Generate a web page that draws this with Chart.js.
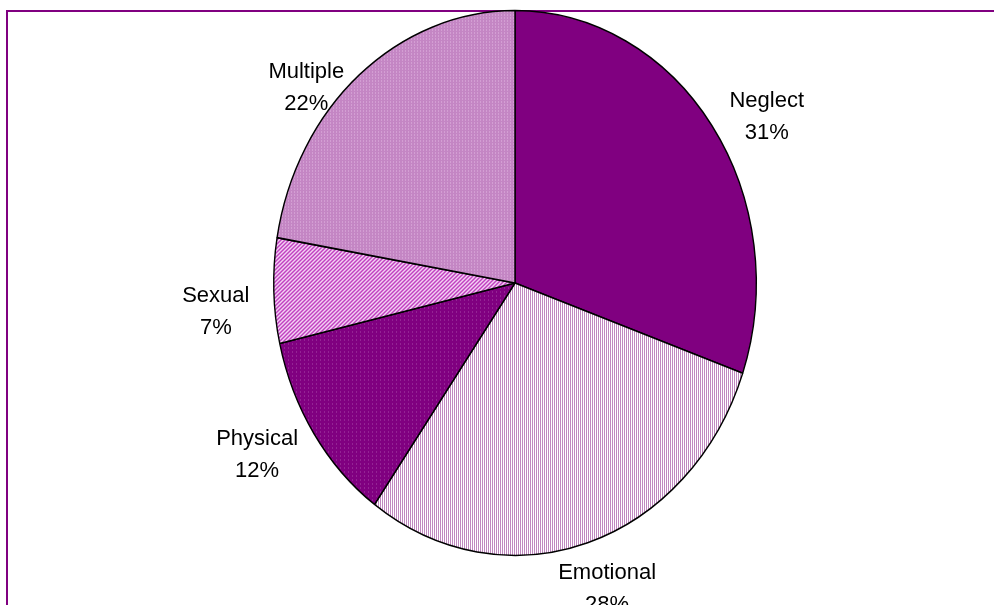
<!DOCTYPE html>
<html>
<head>
<meta charset="utf-8">
<script src="https://cdn.jsdelivr.net/npm/chart.js@4/dist/chart.umd.min.js"></script>
<style>
  html, body { margin: 0; padding: 0; background: #fff; overflow: hidden; }
  #wrap { position: relative; width: 994px; height: 605px; }
  #frame { position: absolute; left: 6px; top: 10px; width: 1100px; height: 700px;
           border-left: 2px solid #800080; border-top: 2px solid #800080; }
  #chart { position: absolute; left: 0; top: 0; }
</style>
</head>
<body>
<div id="wrap">
  <div id="frame"></div>
  <canvas id="chart" width="994" height="605"></canvas>
</div>
<script>
// abuse type breakdown
var categories = ["Neglect", "Emotional", "Physical", "Sexual", "Multiple"];
var shares = [31, 28, 12, 7, 22];

// the pie is an oval, taller than wide
var stretchY = 1.129;

// small tiled fills for the hatched slices
function tile(size, bg, fg, on) {
  var c = document.createElement('canvas');
  c.width = size; c.height = size;
  var g = c.getContext('2d');
  g.fillStyle = bg;
  g.fillRect(0, 0, size, size);
  g.fillStyle = fg;
  for (var y = 0; y < size; y++) {
    for (var x = 0; x < size; x++) {
      if (on(x, y)) g.fillRect(x, y, 1, 1);
    }
  }
  var p = g.createPattern(c, 'repeat');
  // cancel the vertical stretch so the hatching keeps its pixel grid
  p.setTransform(new DOMMatrix().scale(1, 1 / stretchY));
  return p;
}

var fills = [
  '#800080',
  tile(2, '#ffffff', '#c088c0', function (x) { return x === 0; }),
  tile(4, '#800080', '#a848a8', function (x, y) { return x === 0 && y === 0; }),
  tile(4, '#f4d0f4', '#c040c0', function (x, y) { return (x + y) % 4 < 2; }),
  tile(3, '#c486c4', '#e2b6e2', function (x, y) { return x === 0 && y === 0; })
];

var total = shares.reduce(function (a, b) { return a + b; }, 0);

function wrapPi(a) {
  while (a > Math.PI) a -= 2 * Math.PI;
  while (a < -Math.PI) a += 2 * Math.PI;
  return a;
}

// angle to draw with, so that after the stretch the edge sits at the real angle
function squash(t) {
  return t + wrapPi(Math.atan2(Math.sin(t), stretchY * Math.cos(t)) - t);
}

var ovalPie = {
  id: 'ovalPie',
  afterDatasetsUpdate: function (chart) {
    chart.getDatasetMeta(0).data.forEach(function (arc) {
      arc.realStart = arc.startAngle;
      arc.realEnd = arc.endAngle;
      arc.startAngle = squash(arc.startAngle);
      arc.endAngle = squash(arc.endAngle);
    });
  },
  beforeDatasetsDraw: function (chart) {
    var arc = chart.getDatasetMeta(0).data[0];
    var ctx = chart.ctx;
    ctx.save();
    ctx.translate(arc.x, arc.y);
    ctx.scale(1, stretchY);
    ctx.translate(-arc.x, -arc.y);
  },
  afterDatasetsDraw: function (chart, args, opts) {
    var ctx = chart.ctx;
    ctx.restore();

    // name + percentage outside each slice
    ctx.save();
    ctx.fillStyle = '#000';
    ctx.font = opts.size + 'px "Liberation Sans", Arial, sans-serif';
    ctx.textAlign = 'center';
    ctx.textBaseline = 'middle';
    chart.getDatasetMeta(0).data.forEach(function (arc, i) {
      var mid = (arc.realStart + arc.realEnd) / 2;
      var rx = arc.outerRadius, ry = arc.outerRadius * stretchY;
      var c = Math.cos(mid), s = Math.sin(mid);
      var r = 1 / Math.sqrt((c / rx) * (c / rx) + (s / ry) * (s / ry));
      var cx = arc.x + c * r + opts.nudge[i][0];
      var cy = arc.y + s * r + opts.nudge[i][1];
      var pct = Math.round(shares[i] / total * 100) + '%';
      ctx.fillText(categories[i], cx, cy - opts.gap / 2);
      ctx.fillText(pct, cx, cy + opts.gap / 2);
    });
    ctx.restore();
  }
};

new Chart(document.getElementById('chart'), {
  type: 'pie',
  data: {
    labels: categories,
    datasets: [{
      data: shares,
      backgroundColor: fills,
      borderColor: '#000000',
      borderWidth: 1.4
    }]
  },
  options: {
    responsive: false,
    animation: false,
    layout: { padding: { left: 273, right: 237, top: 41, bottom: 80 } },
    plugins: {
      legend: { display: false },
      tooltip: { enabled: false },
      ovalPie: {
        size: 22,
        gap: 32,
        nudge: [[45, -26], [9, 50], [-55, 25], [-58, 21], [-44, 4]]
      }
    }
  },
  plugins: [ovalPie]
});
</script>
</body>
</html>
